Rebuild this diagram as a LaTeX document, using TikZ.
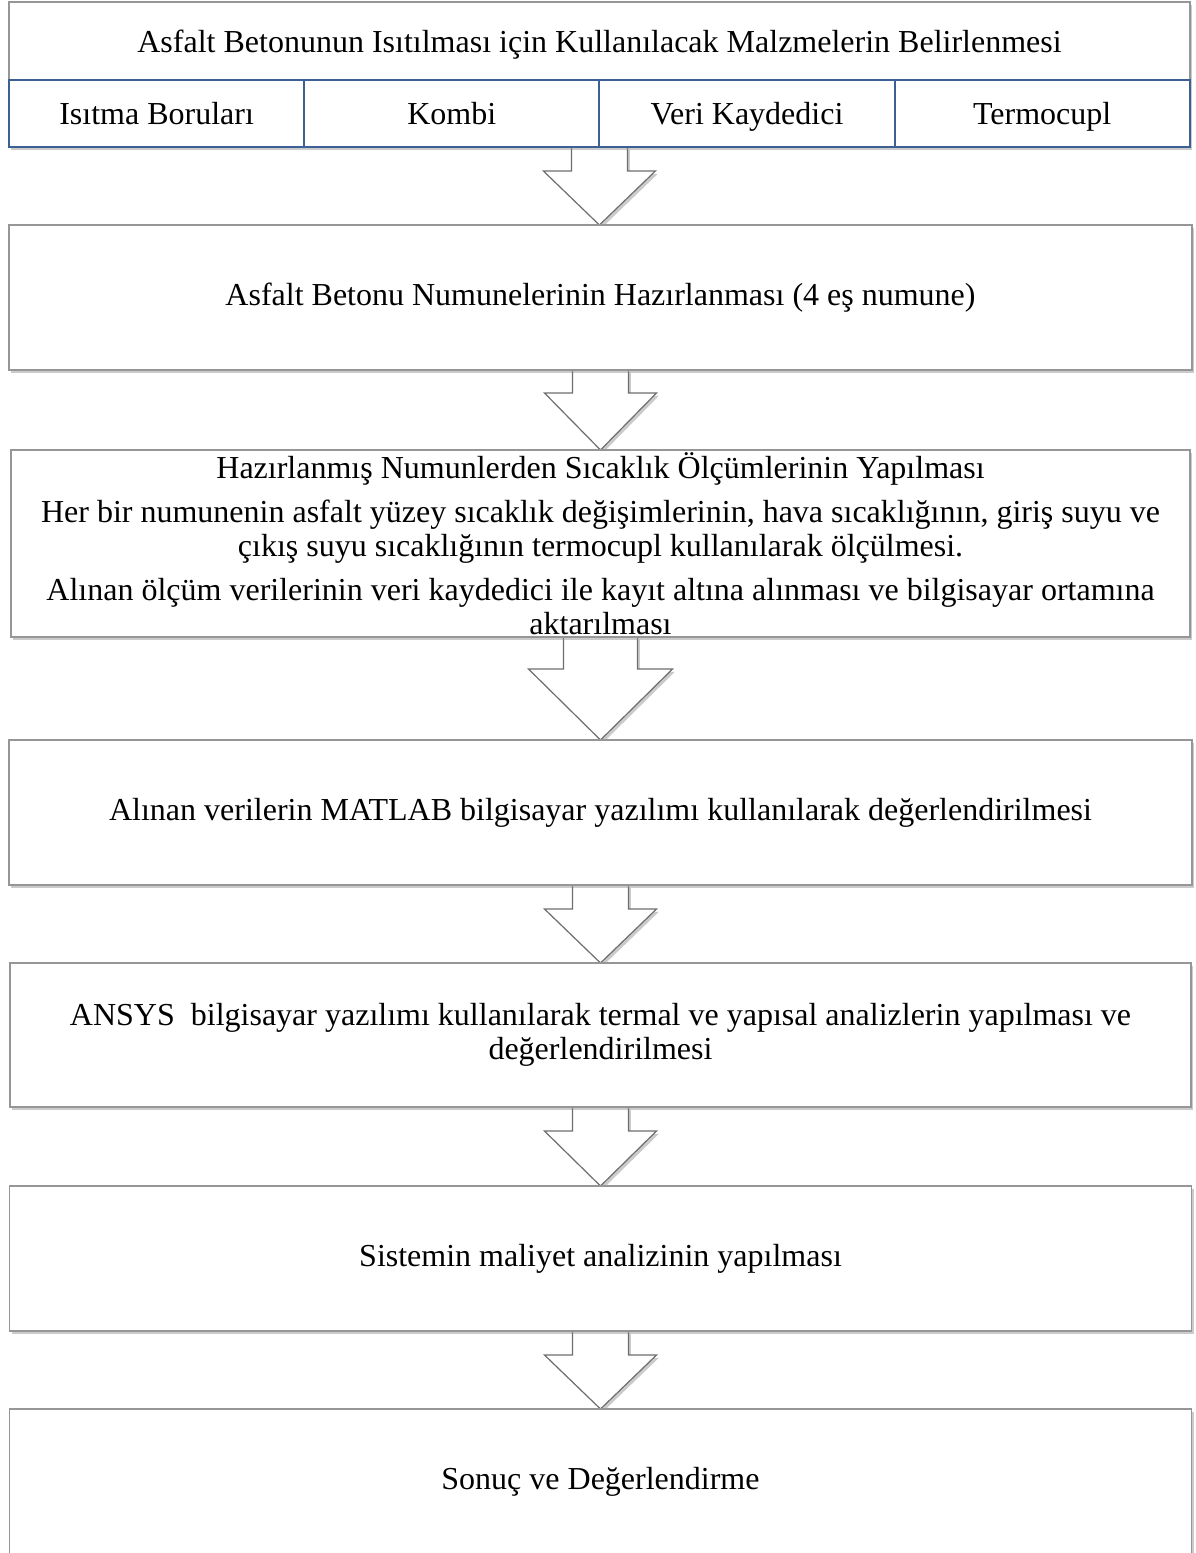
\documentclass[tikz,border=0pt]{standalone}
\usepackage{fontspec}
\setmainfont{Liberation Serif}
\usetikzlibrary{positioning,calc,shadows,backgrounds}
\definecolor{framegray}{RGB}{150,150,150}
\definecolor{arrowgray}{RGB}{110,110,110}
\definecolor{tableblue}{RGB}{60,96,148}

\begin{document}
\begin{tikzpicture}[
    x=0.5pt, y=-0.5pt,
    every node/.style={font=\fontsize{16}{16.8}\selectfont, align=center},
    softshadow/.style={drop shadow={shadow xshift=1.2pt, shadow yshift=-1.4pt, fill=black!45, opacity=0.45}},
    flowbox/.style={rectangle, draw=framegray, fill=white, line width=0.75pt, inner sep=0pt, outer sep=0pt, minimum width=591pt, minimum height=72.5pt, softshadow},
    cellbox/.style={rectangle, draw=tableblue, fill=white, line width=1pt, inner sep=0pt, outer sep=0pt, minimum width=147.6pt, minimum height=33.5pt, text height=13pt, text depth=2pt},
    blockarrow/.style={draw=arrowgray, fill=white, line width=0.6pt, line join=miter, softshadow}
]
\useasboundingbox (0,0) rectangle (1195,1553);

% material list with its table row
\node[flowbox, minimum width=590.5pt, minimum height=39pt, text height=13pt, text depth=2pt] (materials) at (599.5,41) {Asfalt Betonunun Isıtılması için Kullanılacak Malzmelerin Belirlenmesi};
\node[cellbox, softshadow, below right=0pt and 0pt of materials.south west, anchor=north west] (pipes) {Isıtma Boruları};
\node[cellbox, softshadow, right=0pt of pipes] (kombi) {Kombi};
\node[cellbox, softshadow, right=0pt of kombi] (logger) {Veri Kaydedici};
\node[cellbox, softshadow, right=0pt of logger] (thermo) {Termocupl};

% work steps
\node[flowbox, minimum width=591.5pt] (prep) at (600.5,297.5) {Asfalt Betonu Numunelerinin Hazırlanması (4 eş numune)};
\node[flowbox, minimum width=589.5pt, minimum height=93.5pt, below=40pt of prep] (measure) {Hazırlanmış Numunlerden Sıcaklık Ölçümlerinin Yapılması\\[5.5pt]
  Her bir numunenin asfalt yüzey sıcaklık değişimlerinin, hava sıcaklığının, giriş suyu ve\\
  çıkış suyu sıcaklığının termocupl kullanılarak ölçülmesi.\\[5.5pt]
  Alınan ölçüm verilerinin veri kaydedici ile kayıt altına alınması ve bilgisayar ortamına\\
  aktarılması};
\node[flowbox, minimum width=591.5pt, below=51.5pt of measure] (matlab) {Alınan verilerin MATLAB bilgisayar yazılımı kullanılarak değerlendirilmesi};
\node[flowbox, minimum width=590.5pt, minimum height=72pt, below=39pt of matlab] (ansys) {ANSYS\ \ bilgisayar yazılımı kullanılarak termal ve yapısal analizlerin yapılması ve\\ değerlendirilmesi};
\node[flowbox, below=39.5pt of ansys] (cost) {Sistemin maliyet analizinin yapılması};
\node[flowbox, below=39pt of cost] (result) {Sonuç ve Değerlendirme};

% block arrows behind the boxes
\begin{scope}[on background layer]
\foreach \from/\to/\sw/\hw/\sl in {kombi.south east/prep.north/14pt/28pt/12pt,
    prep.south/measure.north/14pt/28pt/11.5pt,
    measure.south/matlab.north/18.5pt/36pt/16pt,
    matlab.south/ansys.north/14pt/28pt/12pt,
    ansys.south/cost.north/14pt/28pt/12pt,
    cost.south/result.north/14pt/28pt/12pt}
  \draw[blockarrow] let \p1=(\from), \p2=(\to) in
    (\x1-\sw,\y1) -- (\x1-\sw,\y1-\sl) -- (\x1-\hw,\y1-\sl) -- (\x1,\y2)
    -- (\x1+\hw,\y1-\sl) -- (\x1+\sw,\y1-\sl) -- (\x1+\sw,\y1) -- cycle;
\end{scope}

\end{tikzpicture}
\end{document}
